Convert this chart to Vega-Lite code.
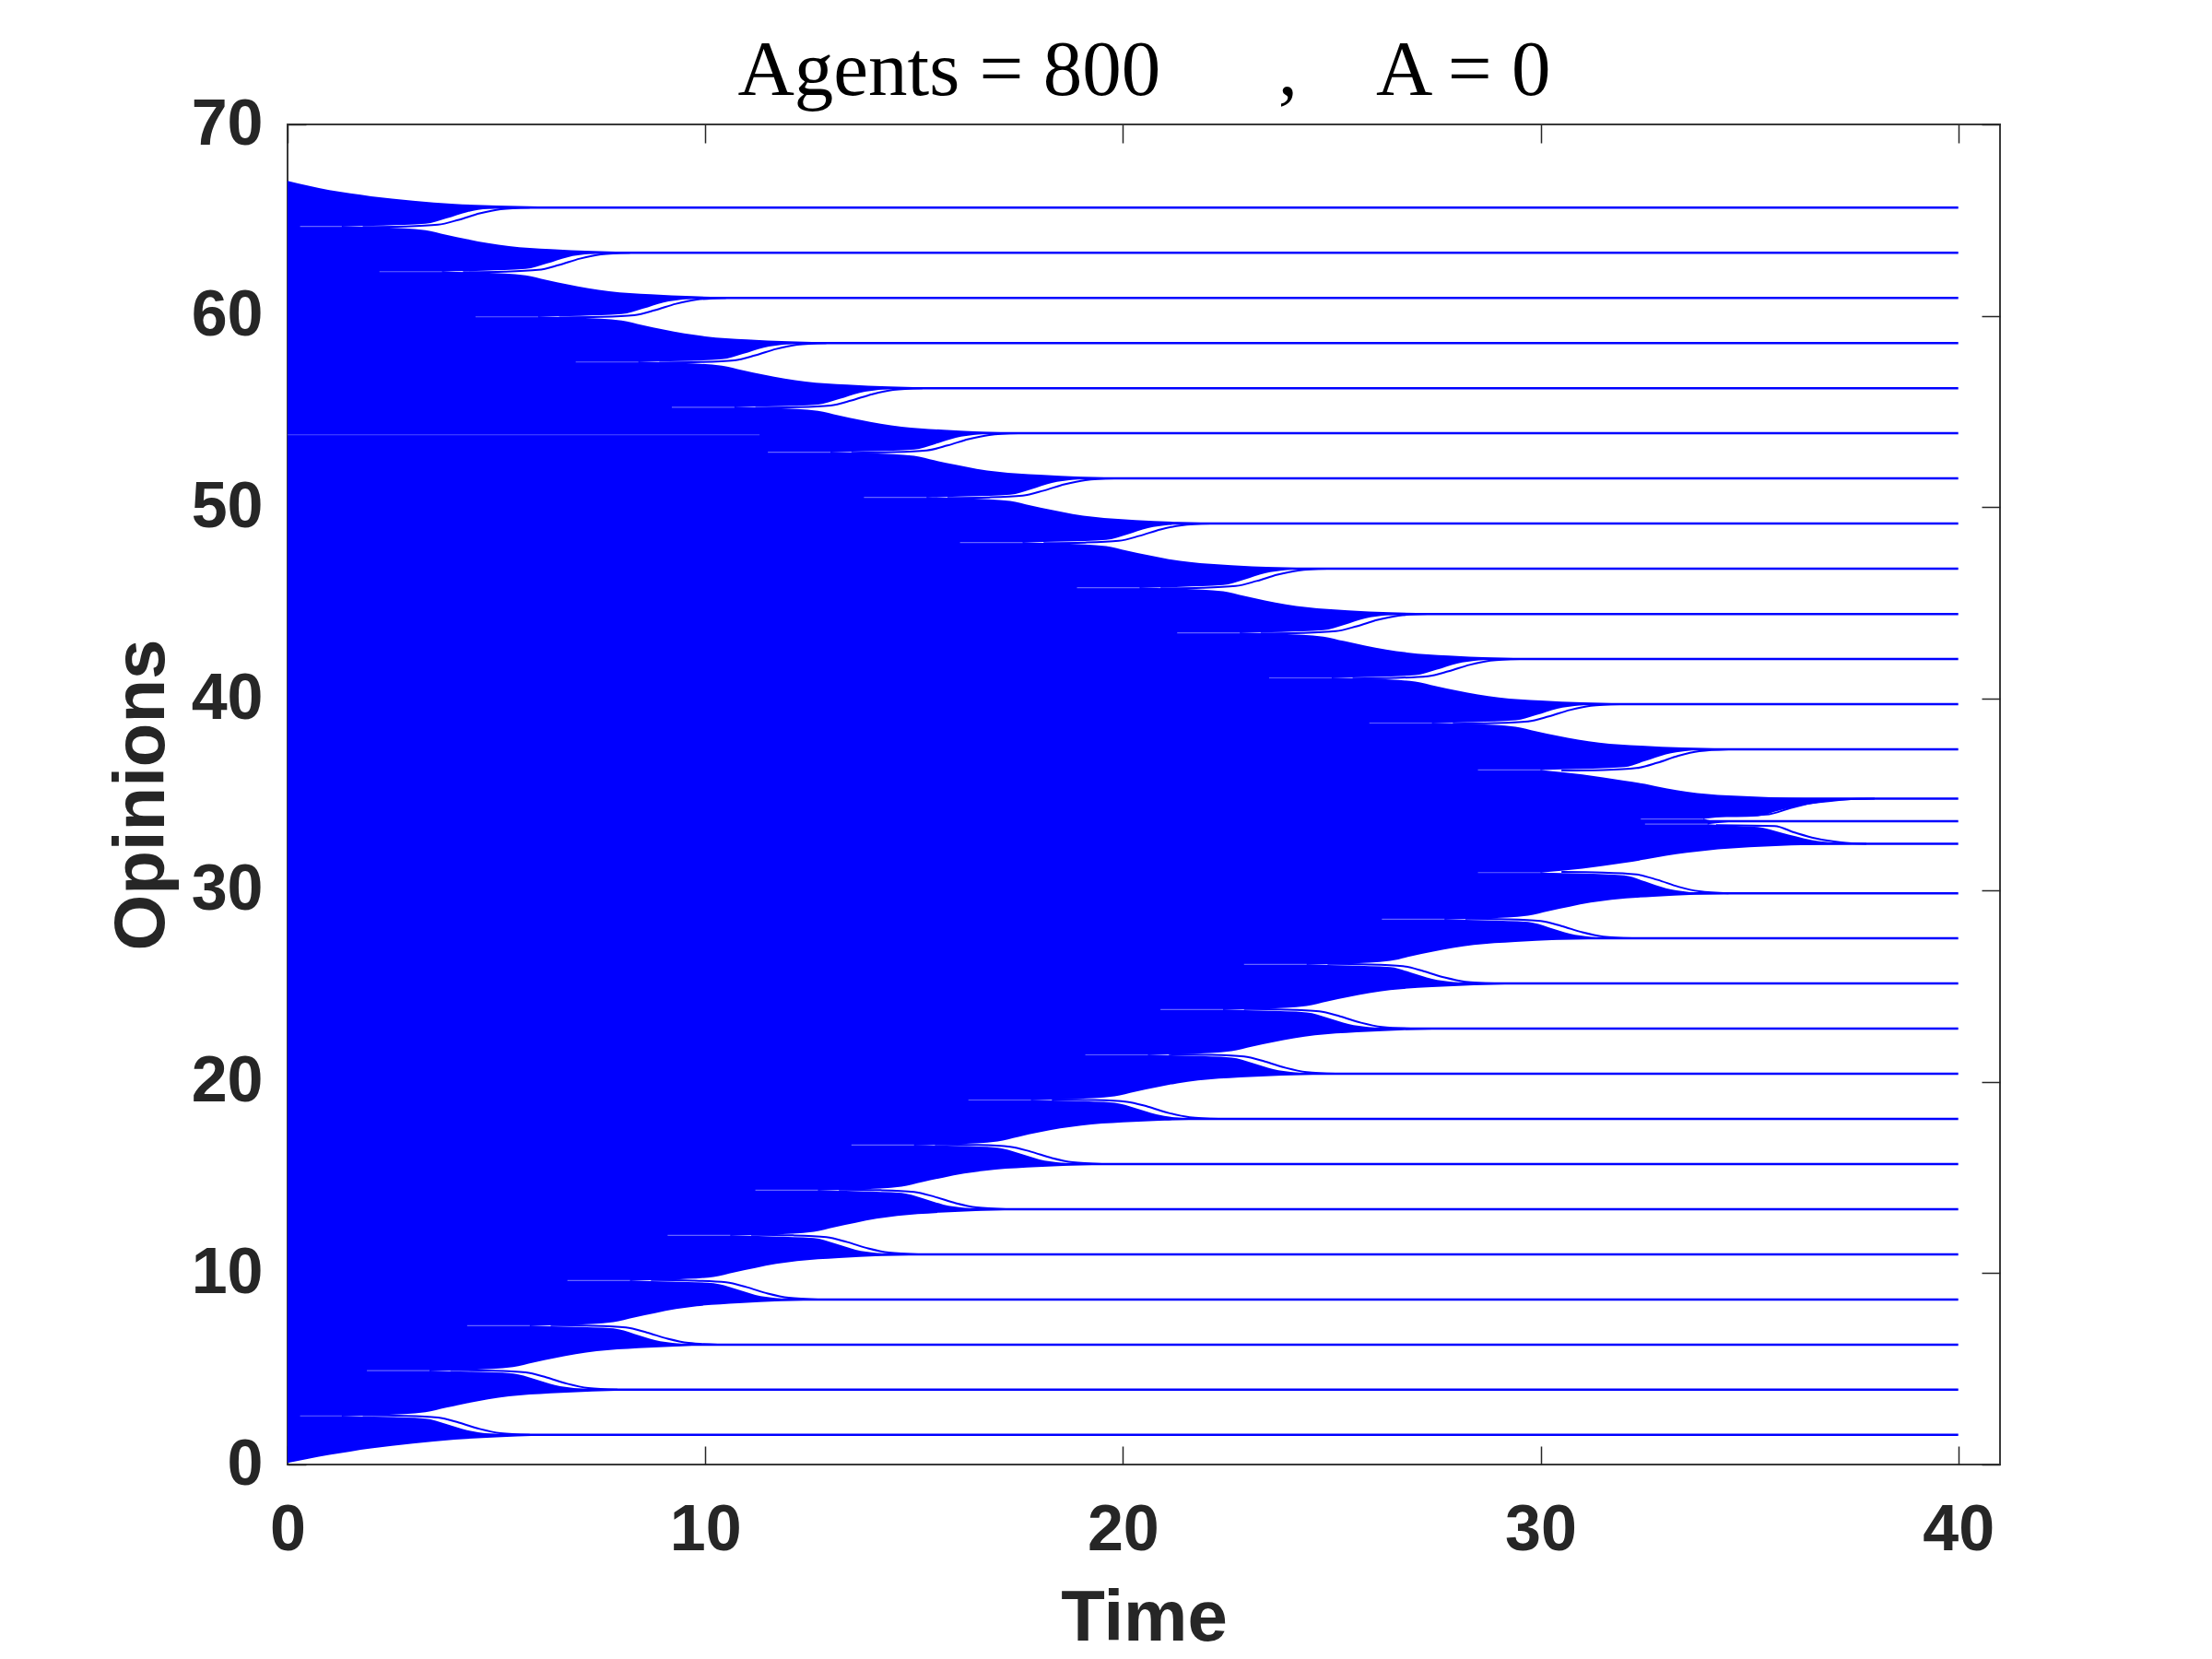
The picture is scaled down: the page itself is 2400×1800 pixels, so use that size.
{
"$schema":"https://vega.github.io/schema/vega-lite/v6.json",
"width":1858,"height":1454,
"autosize":"none",
"padding":{"left":312,"top":135,"right":230,"bottom":211},
"background":"white",
"config":{"view":{"stroke":"#3a3a3a","strokeWidth":2},"axis":{"grid":false,"domain":false}},
"datasets":{
"env":[{"t":0,"hi":67.05,"lo":0.08},{"t":0.5,"hi":66.8,"lo":0.3},{"t":1,"hi":66.57,"lo":0.5},{"t":1.5,"hi":66.4,"lo":0.68},{"t":2,"hi":66.25,"lo":0.84},{"t":3,"hi":66.02,"lo":1.1},{"t":4,"hi":65.85,"lo":1.3},{"t":5,"hi":65.76,"lo":1.42},{"t":6,"hi":65.72,"lo":1.5},{"t":8,"hi":65.68,"lo":1.55},{"t":40,"hi":65.66,"lo":1.55}],
"wedges":[
{"w":1,"t":1.3,"hi":64.67,"lo":64.67},{"w":1,"t":2.3,"hi":64.72,"lo":64.62},{"w":1,"t":3.3,"hi":64.81,"lo":64.48},{"w":1,"t":3.8,"hi":65.09,"lo":64.24},{"w":1,"t":4.3,"hi":65.42,"lo":64.01},{"w":1,"t":4.8,"hi":65.59,"lo":63.8},{"w":1,"t":5.3,"hi":65.66,"lo":63.65},{"w":1,"t":6.3,"hi":65.66,"lo":63.49},{"w":1,"t":7.3,"hi":65.66,"lo":63.39},{"w":1,"t":8.8,"hi":65.66,"lo":63.32},{"w":1,"t":11.3,"hi":65.66,"lo":63.3},{"w":1,"t":40.5,"hi":65.66,"lo":63.3},
{"w":2,"t":3.7,"hi":62.31,"lo":62.31},{"w":2,"t":4.7,"hi":62.36,"lo":62.26},{"w":2,"t":5.7,"hi":62.45,"lo":62.12},{"w":2,"t":6.2,"hi":62.73,"lo":61.88},{"w":2,"t":6.7,"hi":63.06,"lo":61.65},{"w":2,"t":7.2,"hi":63.23,"lo":61.44},{"w":2,"t":7.7,"hi":63.3,"lo":61.29},{"w":2,"t":8.7,"hi":63.3,"lo":61.13},{"w":2,"t":9.7,"hi":63.3,"lo":61.03},{"w":2,"t":11.2,"hi":63.3,"lo":60.96},{"w":2,"t":13.7,"hi":63.3,"lo":60.94},{"w":2,"t":40.5,"hi":63.3,"lo":60.94},
{"w":3,"t":6,"hi":59.95,"lo":59.95},{"w":3,"t":7,"hi":60.0,"lo":59.9},{"w":3,"t":8,"hi":60.09,"lo":59.76},{"w":3,"t":8.5,"hi":60.37,"lo":59.52},{"w":3,"t":9,"hi":60.7,"lo":59.29},{"w":3,"t":9.5,"hi":60.87,"lo":59.08},{"w":3,"t":10,"hi":60.94,"lo":58.93},{"w":3,"t":11,"hi":60.94,"lo":58.77},{"w":3,"t":12,"hi":60.94,"lo":58.67},{"w":3,"t":13.5,"hi":60.94,"lo":58.6},{"w":3,"t":16,"hi":60.94,"lo":58.58},{"w":3,"t":40.5,"hi":60.94,"lo":58.58},
{"w":4,"t":8.4,"hi":57.59,"lo":57.59},{"w":4,"t":9.4,"hi":57.64,"lo":57.54},{"w":4,"t":10.4,"hi":57.73,"lo":57.4},{"w":4,"t":10.9,"hi":58.01,"lo":57.16},{"w":4,"t":11.4,"hi":58.34,"lo":56.93},{"w":4,"t":11.9,"hi":58.51,"lo":56.72},{"w":4,"t":12.4,"hi":58.58,"lo":56.57},{"w":4,"t":13.4,"hi":58.58,"lo":56.41},{"w":4,"t":14.4,"hi":58.58,"lo":56.31},{"w":4,"t":15.9,"hi":58.58,"lo":56.24},{"w":4,"t":18.4,"hi":58.58,"lo":56.22},{"w":4,"t":40.5,"hi":58.58,"lo":56.22},
{"w":5,"t":10.7,"hi":55.23,"lo":55.23},{"w":5,"t":11.7,"hi":55.28,"lo":55.18},{"w":5,"t":12.7,"hi":55.37,"lo":55.04},{"w":5,"t":13.2,"hi":55.65,"lo":54.8},{"w":5,"t":13.7,"hi":55.98,"lo":54.57},{"w":5,"t":14.2,"hi":56.15,"lo":54.36},{"w":5,"t":14.7,"hi":56.22,"lo":54.21},{"w":5,"t":15.7,"hi":56.22,"lo":54.05},{"w":5,"t":16.7,"hi":56.22,"lo":53.95},{"w":5,"t":18.2,"hi":56.22,"lo":53.88},{"w":5,"t":20.7,"hi":56.22,"lo":53.87},{"w":5,"t":40.5,"hi":56.22,"lo":53.87},
{"w":6,"t":13,"hi":52.88,"lo":52.88},{"w":6,"t":14,"hi":52.93,"lo":52.83},{"w":6,"t":15,"hi":53.02,"lo":52.69},{"w":6,"t":15.5,"hi":53.3,"lo":52.45},{"w":6,"t":16,"hi":53.63,"lo":52.22},{"w":6,"t":16.5,"hi":53.8,"lo":52.01},{"w":6,"t":17,"hi":53.87,"lo":51.86},{"w":6,"t":18,"hi":53.87,"lo":51.7},{"w":6,"t":19,"hi":53.87,"lo":51.6},{"w":6,"t":20.5,"hi":53.87,"lo":51.53},{"w":6,"t":23,"hi":53.87,"lo":51.51},{"w":6,"t":40.5,"hi":53.87,"lo":51.51},
{"w":7,"t":15.3,"hi":50.52,"lo":50.52},{"w":7,"t":16.3,"hi":50.57,"lo":50.47},{"w":7,"t":17.3,"hi":50.66,"lo":50.33},{"w":7,"t":17.8,"hi":50.94,"lo":50.09},{"w":7,"t":18.3,"hi":51.27,"lo":49.86},{"w":7,"t":18.8,"hi":51.44,"lo":49.65},{"w":7,"t":19.3,"hi":51.51,"lo":49.5},{"w":7,"t":20.3,"hi":51.51,"lo":49.34},{"w":7,"t":21.3,"hi":51.51,"lo":49.24},{"w":7,"t":22.8,"hi":51.51,"lo":49.17},{"w":7,"t":25.3,"hi":51.51,"lo":49.15},{"w":7,"t":40.5,"hi":51.51,"lo":49.15},
{"w":8,"t":17.6,"hi":48.16,"lo":48.16},{"w":8,"t":18.6,"hi":48.21,"lo":48.11},{"w":8,"t":19.6,"hi":48.3,"lo":47.97},{"w":8,"t":20.1,"hi":48.58,"lo":47.73},{"w":8,"t":20.6,"hi":48.91,"lo":47.5},{"w":8,"t":21.1,"hi":49.08,"lo":47.29},{"w":8,"t":21.6,"hi":49.15,"lo":47.14},{"w":8,"t":22.6,"hi":49.15,"lo":46.98},{"w":8,"t":23.6,"hi":49.15,"lo":46.88},{"w":8,"t":25.1,"hi":49.15,"lo":46.81},{"w":8,"t":27.6,"hi":49.15,"lo":46.79},{"w":8,"t":40.5,"hi":49.15,"lo":46.79},
{"w":9,"t":20.4,"hi":45.8,"lo":45.8},{"w":9,"t":21.4,"hi":45.85,"lo":45.75},{"w":9,"t":22.4,"hi":45.94,"lo":45.61},{"w":9,"t":22.9,"hi":46.22,"lo":45.37},{"w":9,"t":23.4,"hi":46.55,"lo":45.14},{"w":9,"t":23.9,"hi":46.72,"lo":44.93},{"w":9,"t":24.4,"hi":46.79,"lo":44.78},{"w":9,"t":25.4,"hi":46.79,"lo":44.62},{"w":9,"t":26.4,"hi":46.79,"lo":44.52},{"w":9,"t":27.9,"hi":46.79,"lo":44.45},{"w":9,"t":30.4,"hi":46.79,"lo":44.43},{"w":9,"t":40.5,"hi":46.79,"lo":44.43},
{"w":10,"t":22.8,"hi":43.44,"lo":43.44},{"w":10,"t":23.8,"hi":43.49,"lo":43.39},{"w":10,"t":24.8,"hi":43.58,"lo":43.25},{"w":10,"t":25.3,"hi":43.86,"lo":43.01},{"w":10,"t":25.8,"hi":44.19,"lo":42.78},{"w":10,"t":26.3,"hi":44.36,"lo":42.57},{"w":10,"t":26.8,"hi":44.43,"lo":42.42},{"w":10,"t":27.8,"hi":44.43,"lo":42.26},{"w":10,"t":28.8,"hi":44.43,"lo":42.16},{"w":10,"t":30.3,"hi":44.43,"lo":42.09},{"w":10,"t":32.8,"hi":44.43,"lo":42.08},{"w":10,"t":40.5,"hi":44.43,"lo":42.08},
{"w":11,"t":25,"hi":41.09,"lo":41.09},{"w":11,"t":26,"hi":41.14,"lo":41.04},{"w":11,"t":27,"hi":41.23,"lo":40.9},{"w":11,"t":27.5,"hi":41.51,"lo":40.66},{"w":11,"t":28,"hi":41.84,"lo":40.43},{"w":11,"t":28.5,"hi":42.01,"lo":40.22},{"w":11,"t":29,"hi":42.08,"lo":40.07},{"w":11,"t":30,"hi":42.08,"lo":39.91},{"w":11,"t":31,"hi":42.08,"lo":39.81},{"w":11,"t":32.5,"hi":42.08,"lo":39.74},{"w":11,"t":35,"hi":42.08,"lo":39.72},{"w":11,"t":40.5,"hi":42.08,"lo":39.72},
{"w":12,"t":27.4,"hi":38.73,"lo":38.73},{"w":12,"t":28.4,"hi":38.78,"lo":38.68},{"w":12,"t":29.4,"hi":38.87,"lo":38.54},{"w":12,"t":29.9,"hi":39.15,"lo":38.3},{"w":12,"t":30.4,"hi":39.48,"lo":38.07},{"w":12,"t":30.9,"hi":39.65,"lo":37.86},{"w":12,"t":31.4,"hi":39.72,"lo":37.71},{"w":12,"t":32.4,"hi":39.72,"lo":37.55},{"w":12,"t":33.4,"hi":39.72,"lo":37.45},{"w":12,"t":34.9,"hi":39.72,"lo":37.38},{"w":12,"t":37.4,"hi":39.72,"lo":37.36},{"w":12,"t":40.5,"hi":39.72,"lo":37.36},
{"w":13,"t":30,"hi":36.28,"lo":36.28},{"w":13,"t":31,"hi":36.33,"lo":36.05},{"w":13,"t":32,"hi":36.43,"lo":35.72},{"w":13,"t":32.5,"hi":36.74,"lo":35.55},{"w":13,"t":33,"hi":37.1,"lo":35.32},{"w":13,"t":33.5,"hi":37.28,"lo":35.15},{"w":13,"t":34,"hi":37.36,"lo":35.02},{"w":13,"t":35,"hi":37.36,"lo":34.9},{"w":13,"t":36,"hi":37.36,"lo":34.82},{"w":13,"t":37.5,"hi":37.36,"lo":34.78},{"w":13,"t":40.5,"hi":37.36,"lo":34.78},
{"w":14,"t":33.9,"hi":33.72,"lo":33.72},{"w":14,"t":34.2,"hi":33.8,"lo":33.62},{"w":14,"t":35.2,"hi":33.86,"lo":33.6},{"w":14,"t":35.6,"hi":34.1,"lo":33.6},{"w":14,"t":36.2,"hi":34.4,"lo":33.6},{"w":14,"t":36.9,"hi":34.6,"lo":33.6},{"w":14,"t":37.5,"hi":34.72,"lo":33.6},{"w":14,"t":38.5,"hi":34.78,"lo":33.6},{"w":14,"t":40.5,"hi":34.78,"lo":33.6},
{"w":15,"t":34.0,"hi":33.45,"lo":33.45},{"w":15,"t":34.5,"hi":33.55,"lo":33.38},{"w":15,"t":35.2,"hi":33.6,"lo":33.3},{"w":15,"t":35.75,"hi":33.6,"lo":33.01},{"w":15,"t":36.5,"hi":33.6,"lo":32.62},{"w":15,"t":37.2,"hi":33.6,"lo":32.46},{"w":15,"t":38,"hi":33.6,"lo":32.4},{"w":15,"t":40.5,"hi":33.6,"lo":32.4},
{"w":16,"t":30,"hi":30.92,"lo":30.92},{"w":16,"t":31,"hi":31.12,"lo":30.87},{"w":16,"t":32,"hi":31.42,"lo":30.77},{"w":16,"t":32.5,"hi":31.6,"lo":30.46},{"w":16,"t":33,"hi":31.8,"lo":30.1},{"w":16,"t":33.5,"hi":31.95,"lo":29.92},{"w":16,"t":34,"hi":32.08,"lo":29.84},{"w":16,"t":35,"hi":32.24,"lo":29.84},{"w":16,"t":36,"hi":32.34,"lo":29.84},{"w":16,"t":37.5,"hi":32.4,"lo":29.84},{"w":16,"t":40.5,"hi":32.42,"lo":29.84},
{"w":17,"t":27.7,"hi":28.48,"lo":28.48},{"w":17,"t":28.7,"hi":28.53,"lo":28.43},{"w":17,"t":29.7,"hi":28.67,"lo":28.34},{"w":17,"t":30.2,"hi":28.91,"lo":28.06},{"w":17,"t":30.7,"hi":29.14,"lo":27.73},{"w":17,"t":31.2,"hi":29.35,"lo":27.56},{"w":17,"t":31.7,"hi":29.5,"lo":27.49},{"w":17,"t":32.7,"hi":29.66,"lo":27.49},{"w":17,"t":33.7,"hi":29.76,"lo":27.49},{"w":17,"t":35.2,"hi":29.83,"lo":27.49},{"w":17,"t":37.7,"hi":29.84,"lo":27.49},{"w":17,"t":40.5,"hi":29.84,"lo":27.49},
{"w":18,"t":24.4,"hi":26.12,"lo":26.12},{"w":18,"t":25.4,"hi":26.17,"lo":26.07},{"w":18,"t":26.4,"hi":26.31,"lo":25.98},{"w":18,"t":26.9,"hi":26.55,"lo":25.7},{"w":18,"t":27.4,"hi":26.78,"lo":25.37},{"w":18,"t":27.9,"hi":26.99,"lo":25.2},{"w":18,"t":28.4,"hi":27.14,"lo":25.13},{"w":18,"t":29.4,"hi":27.3,"lo":25.13},{"w":18,"t":30.4,"hi":27.4,"lo":25.13},{"w":18,"t":31.9,"hi":27.47,"lo":25.13},{"w":18,"t":34.4,"hi":27.49,"lo":25.13},{"w":18,"t":40.5,"hi":27.49,"lo":25.13},
{"w":19,"t":22.4,"hi":23.76,"lo":23.76},{"w":19,"t":23.4,"hi":23.81,"lo":23.71},{"w":19,"t":24.4,"hi":23.95,"lo":23.62},{"w":19,"t":24.9,"hi":24.19,"lo":23.34},{"w":19,"t":25.4,"hi":24.42,"lo":23.01},{"w":19,"t":25.9,"hi":24.63,"lo":22.84},{"w":19,"t":26.4,"hi":24.78,"lo":22.77},{"w":19,"t":27.4,"hi":24.94,"lo":22.77},{"w":19,"t":28.4,"hi":25.04,"lo":22.77},{"w":19,"t":29.9,"hi":25.11,"lo":22.77},{"w":19,"t":32.4,"hi":25.13,"lo":22.77},{"w":19,"t":40.5,"hi":25.13,"lo":22.77},
{"w":20,"t":20.6,"hi":21.4,"lo":21.4},{"w":20,"t":21.6,"hi":21.45,"lo":21.35},{"w":20,"t":22.6,"hi":21.59,"lo":21.26},{"w":20,"t":23.1,"hi":21.83,"lo":20.98},{"w":20,"t":23.6,"hi":22.06,"lo":20.65},{"w":20,"t":24.1,"hi":22.27,"lo":20.48},{"w":20,"t":24.6,"hi":22.42,"lo":20.41},{"w":20,"t":25.6,"hi":22.58,"lo":20.41},{"w":20,"t":26.6,"hi":22.68,"lo":20.41},{"w":20,"t":28.1,"hi":22.75,"lo":20.41},{"w":20,"t":30.6,"hi":22.77,"lo":20.41},{"w":20,"t":40.5,"hi":22.77,"lo":20.41},
{"w":21,"t":17.8,"hi":19.04,"lo":19.04},{"w":21,"t":18.8,"hi":19.09,"lo":18.99},{"w":21,"t":19.8,"hi":19.23,"lo":18.9},{"w":21,"t":20.3,"hi":19.47,"lo":18.62},{"w":21,"t":20.8,"hi":19.7,"lo":18.29},{"w":21,"t":21.3,"hi":19.91,"lo":18.12},{"w":21,"t":21.8,"hi":20.06,"lo":18.05},{"w":21,"t":22.8,"hi":20.22,"lo":18.05},{"w":21,"t":23.8,"hi":20.32,"lo":18.05},{"w":21,"t":25.3,"hi":20.39,"lo":18.05},{"w":21,"t":27.8,"hi":20.41,"lo":18.05},{"w":21,"t":40.5,"hi":20.41,"lo":18.05},
{"w":22,"t":15,"hi":16.69,"lo":16.69},{"w":22,"t":16,"hi":16.74,"lo":16.64},{"w":22,"t":17,"hi":16.88,"lo":16.55},{"w":22,"t":17.5,"hi":17.12,"lo":16.27},{"w":22,"t":18,"hi":17.35,"lo":15.94},{"w":22,"t":18.5,"hi":17.56,"lo":15.77},{"w":22,"t":19,"hi":17.71,"lo":15.7},{"w":22,"t":20,"hi":17.87,"lo":15.7},{"w":22,"t":21,"hi":17.97,"lo":15.7},{"w":22,"t":22.5,"hi":18.04,"lo":15.7},{"w":22,"t":25,"hi":18.05,"lo":15.7},{"w":22,"t":40.5,"hi":18.05,"lo":15.7},
{"w":23,"t":12.7,"hi":14.33,"lo":14.33},{"w":23,"t":13.7,"hi":14.38,"lo":14.28},{"w":23,"t":14.7,"hi":14.52,"lo":14.19},{"w":23,"t":15.2,"hi":14.76,"lo":13.91},{"w":23,"t":15.7,"hi":14.99,"lo":13.58},{"w":23,"t":16.2,"hi":15.2,"lo":13.41},{"w":23,"t":16.7,"hi":15.35,"lo":13.34},{"w":23,"t":17.7,"hi":15.51,"lo":13.34},{"w":23,"t":18.7,"hi":15.61,"lo":13.34},{"w":23,"t":20.2,"hi":15.68,"lo":13.34},{"w":23,"t":22.7,"hi":15.7,"lo":13.34},{"w":23,"t":40.5,"hi":15.7,"lo":13.34},
{"w":24,"t":10.6,"hi":11.97,"lo":11.97},{"w":24,"t":11.6,"hi":12.02,"lo":11.92},{"w":24,"t":12.6,"hi":12.16,"lo":11.83},{"w":24,"t":13.1,"hi":12.4,"lo":11.55},{"w":24,"t":13.6,"hi":12.63,"lo":11.22},{"w":24,"t":14.1,"hi":12.84,"lo":11.05},{"w":24,"t":14.6,"hi":12.99,"lo":10.98},{"w":24,"t":15.6,"hi":13.15,"lo":10.98},{"w":24,"t":16.6,"hi":13.25,"lo":10.98},{"w":24,"t":18.1,"hi":13.32,"lo":10.98},{"w":24,"t":20.6,"hi":13.34,"lo":10.98},{"w":24,"t":40.5,"hi":13.34,"lo":10.98},
{"w":25,"t":8.2,"hi":9.61,"lo":9.61},{"w":25,"t":9.2,"hi":9.66,"lo":9.56},{"w":25,"t":10.2,"hi":9.8,"lo":9.47},{"w":25,"t":10.7,"hi":10.04,"lo":9.19},{"w":25,"t":11.2,"hi":10.27,"lo":8.86},{"w":25,"t":11.7,"hi":10.48,"lo":8.69},{"w":25,"t":12.2,"hi":10.63,"lo":8.62},{"w":25,"t":13.2,"hi":10.79,"lo":8.62},{"w":25,"t":14.2,"hi":10.89,"lo":8.62},{"w":25,"t":15.7,"hi":10.96,"lo":8.62},{"w":25,"t":18.2,"hi":10.98,"lo":8.62},{"w":25,"t":40.5,"hi":10.98,"lo":8.62},
{"w":26,"t":5.8,"hi":7.25,"lo":7.25},{"w":26,"t":6.8,"hi":7.3,"lo":7.2},{"w":26,"t":7.8,"hi":7.44,"lo":7.11},{"w":26,"t":8.3,"hi":7.68,"lo":6.83},{"w":26,"t":8.8,"hi":7.91,"lo":6.5},{"w":26,"t":9.3,"hi":8.12,"lo":6.33},{"w":26,"t":9.8,"hi":8.27,"lo":6.26},{"w":26,"t":10.8,"hi":8.43,"lo":6.26},{"w":26,"t":11.8,"hi":8.53,"lo":6.26},{"w":26,"t":13.3,"hi":8.6,"lo":6.26},{"w":26,"t":15.8,"hi":8.62,"lo":6.26},{"w":26,"t":40.5,"hi":8.62,"lo":6.26},
{"w":27,"t":3.4,"hi":4.9,"lo":4.9},{"w":27,"t":4.4,"hi":4.95,"lo":4.85},{"w":27,"t":5.4,"hi":5.09,"lo":4.76},{"w":27,"t":5.9,"hi":5.33,"lo":4.48},{"w":27,"t":6.4,"hi":5.56,"lo":4.15},{"w":27,"t":6.9,"hi":5.77,"lo":3.98},{"w":27,"t":7.4,"hi":5.92,"lo":3.91},{"w":27,"t":8.4,"hi":6.08,"lo":3.91},{"w":27,"t":9.4,"hi":6.18,"lo":3.91},{"w":27,"t":10.9,"hi":6.25,"lo":3.91},{"w":27,"t":13.4,"hi":6.26,"lo":3.91},{"w":27,"t":40.5,"hi":6.26,"lo":3.91},
{"w":28,"t":1.3,"hi":2.54,"lo":2.54},{"w":28,"t":2.3,"hi":2.59,"lo":2.49},{"w":28,"t":3.3,"hi":2.73,"lo":2.4},{"w":28,"t":3.8,"hi":2.97,"lo":2.12},{"w":28,"t":4.3,"hi":3.2,"lo":1.79},{"w":28,"t":4.8,"hi":3.41,"lo":1.62},{"w":28,"t":5.3,"hi":3.56,"lo":1.55},{"w":28,"t":6.3,"hi":3.72,"lo":1.55},{"w":28,"t":7.3,"hi":3.82,"lo":1.55},{"w":28,"t":8.8,"hi":3.89,"lo":1.55},{"w":28,"t":11.3,"hi":3.91,"lo":1.55},{"w":28,"t":40.5,"hi":3.91,"lo":1.55}
],
"nears":[
{"w":1,"t":1.8,"y":64.64},{"w":1,"t":2.8,"y":64.67},{"w":1,"t":3.6,"y":64.76},{"w":1,"t":4.1,"y":65.02},{"w":1,"t":4.6,"y":65.35},{"w":1,"t":5.1,"y":65.57},{"w":1,"t":5.8,"y":65.66},
{"w":2,"t":4.2,"y":62.28},{"w":2,"t":5.2,"y":62.31},{"w":2,"t":6.0,"y":62.4},{"w":2,"t":6.5,"y":62.66},{"w":2,"t":7.0,"y":62.99},{"w":2,"t":7.5,"y":63.21},{"w":2,"t":8.2,"y":63.3},
{"w":3,"t":6.5,"y":59.92},{"w":3,"t":7.5,"y":59.95},{"w":3,"t":8.3,"y":60.04},{"w":3,"t":8.8,"y":60.3},{"w":3,"t":9.3,"y":60.63},{"w":3,"t":9.8,"y":60.85},{"w":3,"t":10.5,"y":60.94},
{"w":4,"t":8.9,"y":57.56},{"w":4,"t":9.9,"y":57.59},{"w":4,"t":10.7,"y":57.68},{"w":4,"t":11.2,"y":57.94},{"w":4,"t":11.7,"y":58.27},{"w":4,"t":12.2,"y":58.49},{"w":4,"t":12.9,"y":58.58},
{"w":5,"t":11.2,"y":55.2},{"w":5,"t":12.2,"y":55.23},{"w":5,"t":13.0,"y":55.32},{"w":5,"t":13.5,"y":55.58},{"w":5,"t":14.0,"y":55.91},{"w":5,"t":14.5,"y":56.13},{"w":5,"t":15.2,"y":56.22},
{"w":6,"t":13.5,"y":52.85},{"w":6,"t":14.5,"y":52.88},{"w":6,"t":15.3,"y":52.97},{"w":6,"t":15.8,"y":53.23},{"w":6,"t":16.3,"y":53.56},{"w":6,"t":16.8,"y":53.78},{"w":6,"t":17.5,"y":53.87},
{"w":7,"t":15.8,"y":50.49},{"w":7,"t":16.8,"y":50.52},{"w":7,"t":17.6,"y":50.61},{"w":7,"t":18.1,"y":50.87},{"w":7,"t":18.6,"y":51.2},{"w":7,"t":19.1,"y":51.42},{"w":7,"t":19.8,"y":51.51},
{"w":8,"t":18.1,"y":48.13},{"w":8,"t":19.1,"y":48.16},{"w":8,"t":19.9,"y":48.25},{"w":8,"t":20.4,"y":48.51},{"w":8,"t":20.9,"y":48.84},{"w":8,"t":21.4,"y":49.06},{"w":8,"t":22.1,"y":49.15},
{"w":9,"t":20.9,"y":45.77},{"w":9,"t":21.9,"y":45.8},{"w":9,"t":22.7,"y":45.89},{"w":9,"t":23.2,"y":46.15},{"w":9,"t":23.7,"y":46.48},{"w":9,"t":24.2,"y":46.7},{"w":9,"t":24.9,"y":46.79},
{"w":10,"t":23.3,"y":43.41},{"w":10,"t":24.3,"y":43.44},{"w":10,"t":25.1,"y":43.53},{"w":10,"t":25.6,"y":43.79},{"w":10,"t":26.1,"y":44.12},{"w":10,"t":26.6,"y":44.34},{"w":10,"t":27.3,"y":44.43},
{"w":11,"t":25.5,"y":41.06},{"w":11,"t":26.5,"y":41.09},{"w":11,"t":27.3,"y":41.18},{"w":11,"t":27.8,"y":41.44},{"w":11,"t":28.3,"y":41.77},{"w":11,"t":28.8,"y":41.99},{"w":11,"t":29.5,"y":42.08},
{"w":12,"t":27.9,"y":38.7},{"w":12,"t":28.9,"y":38.73},{"w":12,"t":29.7,"y":38.82},{"w":12,"t":30.2,"y":39.08},{"w":12,"t":30.7,"y":39.41},{"w":12,"t":31.2,"y":39.63},{"w":12,"t":31.9,"y":39.72},
{"w":13,"t":30.5,"y":36.25},{"w":13,"t":31.5,"y":36.28},{"w":13,"t":32.3,"y":36.38},{"w":13,"t":32.8,"y":36.66},{"w":13,"t":33.3,"y":37.02},{"w":13,"t":33.8,"y":37.26},{"w":13,"t":34.5,"y":37.36},
{"w":14,"t":34.0,"y":33.9},{"w":14,"t":35.4,"y":33.95},{"w":14,"t":36.0,"y":34.3},{"w":14,"t":36.6,"y":34.6},{"w":14,"t":37.3,"y":34.75},{"w":14,"t":38.0,"y":34.78},
{"w":15,"t":34.2,"y":33.4},{"w":15,"t":35.6,"y":33.35},{"w":15,"t":36.1,"y":33.0},{"w":15,"t":36.6,"y":32.7},{"w":15,"t":37.2,"y":32.5},{"w":15,"t":37.8,"y":32.42},
{"w":16,"t":30.5,"y":30.95},{"w":16,"t":31.5,"y":30.92},{"w":16,"t":32.3,"y":30.82},{"w":16,"t":32.8,"y":30.54},{"w":16,"t":33.3,"y":30.18},{"w":16,"t":33.8,"y":29.94},{"w":16,"t":34.5,"y":29.84},
{"w":17,"t":28.2,"y":28.51},{"w":17,"t":29.2,"y":28.48},{"w":17,"t":30.0,"y":28.39},{"w":17,"t":30.5,"y":28.13},{"w":17,"t":31.0,"y":27.8},{"w":17,"t":31.5,"y":27.58},{"w":17,"t":32.2,"y":27.49},
{"w":18,"t":24.9,"y":26.15},{"w":18,"t":25.9,"y":26.12},{"w":18,"t":26.7,"y":26.03},{"w":18,"t":27.2,"y":25.77},{"w":18,"t":27.7,"y":25.44},{"w":18,"t":28.2,"y":25.22},{"w":18,"t":28.9,"y":25.13},
{"w":19,"t":22.9,"y":23.79},{"w":19,"t":23.9,"y":23.76},{"w":19,"t":24.7,"y":23.67},{"w":19,"t":25.2,"y":23.41},{"w":19,"t":25.7,"y":23.08},{"w":19,"t":26.2,"y":22.86},{"w":19,"t":26.9,"y":22.77},
{"w":20,"t":21.1,"y":21.43},{"w":20,"t":22.1,"y":21.4},{"w":20,"t":22.9,"y":21.31},{"w":20,"t":23.4,"y":21.05},{"w":20,"t":23.9,"y":20.72},{"w":20,"t":24.4,"y":20.5},{"w":20,"t":25.1,"y":20.41},
{"w":21,"t":18.3,"y":19.07},{"w":21,"t":19.3,"y":19.04},{"w":21,"t":20.1,"y":18.95},{"w":21,"t":20.6,"y":18.69},{"w":21,"t":21.1,"y":18.36},{"w":21,"t":21.6,"y":18.14},{"w":21,"t":22.3,"y":18.05},
{"w":22,"t":15.5,"y":16.72},{"w":22,"t":16.5,"y":16.69},{"w":22,"t":17.3,"y":16.6},{"w":22,"t":17.8,"y":16.34},{"w":22,"t":18.3,"y":16.01},{"w":22,"t":18.8,"y":15.79},{"w":22,"t":19.5,"y":15.7},
{"w":23,"t":13.2,"y":14.36},{"w":23,"t":14.2,"y":14.33},{"w":23,"t":15.0,"y":14.24},{"w":23,"t":15.5,"y":13.98},{"w":23,"t":16.0,"y":13.65},{"w":23,"t":16.5,"y":13.43},{"w":23,"t":17.2,"y":13.34},
{"w":24,"t":11.1,"y":12.0},{"w":24,"t":12.1,"y":11.97},{"w":24,"t":12.9,"y":11.88},{"w":24,"t":13.4,"y":11.62},{"w":24,"t":13.9,"y":11.29},{"w":24,"t":14.4,"y":11.07},{"w":24,"t":15.1,"y":10.98},
{"w":25,"t":8.7,"y":9.64},{"w":25,"t":9.7,"y":9.61},{"w":25,"t":10.5,"y":9.52},{"w":25,"t":11.0,"y":9.26},{"w":25,"t":11.5,"y":8.93},{"w":25,"t":12.0,"y":8.71},{"w":25,"t":12.7,"y":8.62},
{"w":26,"t":6.3,"y":7.28},{"w":26,"t":7.3,"y":7.25},{"w":26,"t":8.1,"y":7.16},{"w":26,"t":8.6,"y":6.9},{"w":26,"t":9.1,"y":6.57},{"w":26,"t":9.6,"y":6.35},{"w":26,"t":10.3,"y":6.26},
{"w":27,"t":3.9,"y":4.93},{"w":27,"t":4.9,"y":4.9},{"w":27,"t":5.7,"y":4.81},{"w":27,"t":6.2,"y":4.55},{"w":27,"t":6.7,"y":4.22},{"w":27,"t":7.2,"y":4.0},{"w":27,"t":7.9,"y":3.91},
{"w":28,"t":1.8,"y":2.57},{"w":28,"t":2.8,"y":2.54},{"w":28,"t":3.6,"y":2.45},{"w":28,"t":4.1,"y":2.19},{"w":28,"t":4.6,"y":1.86},{"w":28,"t":5.1,"y":1.64},{"w":28,"t":5.8,"y":1.55}
],
"slivers":[
{"t0":0.3,"t1":1.3,"y":64.67},{"t0":2.2,"t1":3.7,"y":62.31},{"t0":4.5,"t1":6.0,"y":59.95},{"t0":6.9,"t1":8.4,"y":57.59},{"t0":9.2,"t1":10.7,"y":55.23},{"t0":11.5,"t1":13.0,"y":52.88},{"t0":13.8,"t1":15.3,"y":50.52},{"t0":16.1,"t1":17.6,"y":48.16},{"t0":18.9,"t1":20.4,"y":45.8},{"t0":21.3,"t1":22.8,"y":43.44},{"t0":23.5,"t1":25.0,"y":41.09},{"t0":25.9,"t1":27.4,"y":38.73},{"t0":28.5,"t1":30.0,"y":36.28},{"t0":32.4,"t1":33.9,"y":33.72},{"t0":32.5,"t1":34.0,"y":33.45},{"t0":28.5,"t1":30.0,"y":30.92},{"t0":26.2,"t1":27.7,"y":28.48},{"t0":22.9,"t1":24.4,"y":26.12},{"t0":20.9,"t1":22.4,"y":23.76},{"t0":19.1,"t1":20.6,"y":21.4},{"t0":16.3,"t1":17.8,"y":19.04},{"t0":13.5,"t1":15.0,"y":16.69},{"t0":11.2,"t1":12.7,"y":14.33},{"t0":9.1,"t1":10.6,"y":11.97},{"t0":6.7,"t1":8.2,"y":9.61},{"t0":4.3,"t1":5.8,"y":7.25},{"t0":1.9,"t1":3.4,"y":4.9},{"t0":0.3,"t1":1.3,"y":2.54}
],
"faint":[{"t0":0,"t1":11.3,"y":53.8}],
"clusters":[{"y":65.66},{"y":63.3},{"y":60.94},{"y":58.58},{"y":56.22},{"y":53.87},{"y":51.51},{"y":49.15},{"y":46.79},{"y":44.43},{"y":42.08},{"y":39.72},{"y":37.36},{"y":34.78},{"y":33.6},{"y":32.42},{"y":29.84},{"y":27.49},{"y":25.13},{"y":22.77},{"y":20.41},{"y":18.05},{"y":15.7},{"y":13.34},{"y":10.98},{"y":8.62},{"y":6.26},{"y":3.91},{"y":1.55}]
},
"layer":[
{"data":{"name":"env"},"mark":{"type":"area","color":"#0000ff","interpolate":"monotone"},
 "encoding":{
  "x":{"field":"t","type":"quantitative","scale":{"domain":[0,41],"nice":false,"zero":false},
   "axis":{"orient":"bottom","values":[0,10,20,30,40],"tickSize":-20,"tickColor":"#262626","tickWidth":1.5,"labelFont":"Liberation Sans","labelFontSize":70,"labelFontWeight":"bold","labelColor":"#262626","labelPadding":57,"labelFlush":false,"labelOverlap":false,"title":"Time","titleFont":"Liberation Sans","titleFontSize":78,"titleFontWeight":"bold","titleColor":"#262626","titlePadding":22,"domain":false,"grid":false}},
  "y":{"field":"hi","type":"quantitative","scale":{"domain":[0,70],"nice":false,"zero":false},
   "axis":{"orient":"left","values":[0,10,20,30,40,50,60,70],"tickSize":-20,"tickColor":"#262626","tickWidth":1.5,"labelFont":"Liberation Sans","labelFontSize":70,"labelFontWeight":"bold","labelColor":"#262626","labelPadding":47,"labelFlush":false,"labelOverlap":false,"title":"Opinions","titleFont":"Liberation Sans","titleFontSize":78,"titleFontWeight":"bold","titleColor":"#262626","titlePadding":14,"domain":false,"grid":false}},
  "y2":{"field":"lo"}}},
{"data":{"name":"wedges"},"mark":{"type":"area","color":"#ffffff","interpolate":"monotone","clip":false},
 "encoding":{
  "x":{"field":"t","type":"quantitative","scale":{"domain":[0,41],"nice":false,"zero":false},"axis":null},
  "y":{"field":"hi","type":"quantitative","scale":{"domain":[0,70],"nice":false,"zero":false},"axis":null},
  "y2":{"field":"lo"},
  "detail":{"field":"w","type":"nominal"}}},
{"data":{"name":"slivers"},"mark":{"type":"rule","color":"#ffffff","strokeWidth":1.2,"opacity":0.4},
 "encoding":{
  "x":{"field":"t0","type":"quantitative","scale":{"domain":[0,41],"nice":false,"zero":false},"axis":null},
  "x2":{"field":"t1"},
  "y":{"field":"y","type":"quantitative","scale":{"domain":[0,70],"nice":false,"zero":false},"axis":null}}},
{"data":{"name":"faint"},"mark":{"type":"rule","color":"#ffffff","strokeWidth":1.5,"opacity":0.3},
 "encoding":{
  "x":{"field":"t0","type":"quantitative","scale":{"domain":[0,41],"nice":false,"zero":false},"axis":null},
  "x2":{"field":"t1"},
  "y":{"field":"y","type":"quantitative","scale":{"domain":[0,70],"nice":false,"zero":false},"axis":null}}},
{"data":{"name":"nears"},"mark":{"type":"line","color":"#0000ff","strokeWidth":2,"interpolate":"monotone"},
 "encoding":{
  "x":{"field":"t","type":"quantitative","scale":{"domain":[0,41],"nice":false,"zero":false},
   "axis":{"orient":"top","values":[0,10,20,30,40],"tickSize":-20,"tickColor":"#262626","tickWidth":1.5,"labels":false,"title":"Agents = 800\u00a0\u00a0\u00a0\u00a0\u00a0\u00a0,\u00a0\u00a0\u00a0\u00a0A = 0","titleFont":"Liberation Serif","titleFontSize":85,"titleFontWeight":"normal","titleColor":"#000000","titleAnchor":"middle","titleBaseline":"alphabetic","titleX":929,"titleY":-33,"domain":false,"grid":false}},
  "y":{"field":"y","type":"quantitative","scale":{"domain":[0,70],"nice":false,"zero":false},
   "axis":{"orient":"right","values":[0,10,20,30,40,50,60,70],"tickSize":-20,"tickColor":"#262626","tickWidth":1.5,"labels":false,"title":null,"domain":false,"grid":false}},
  "detail":{"field":"w","type":"nominal"}}},
{"data":{"name":"clusters"},"mark":{"type":"rule","color":"#0000ff","strokeWidth":2.5},
 "encoding":{
  "x":{"datum":0,"type":"quantitative","scale":{"domain":[0,41],"nice":false,"zero":false},"axis":null},
  "x2":{"datum":40},
  "y":{"field":"y","type":"quantitative","scale":{"domain":[0,70],"nice":false,"zero":false},"axis":null}}}
],
"resolve":{"axis":{"x":"independent","y":"independent"}}
}
